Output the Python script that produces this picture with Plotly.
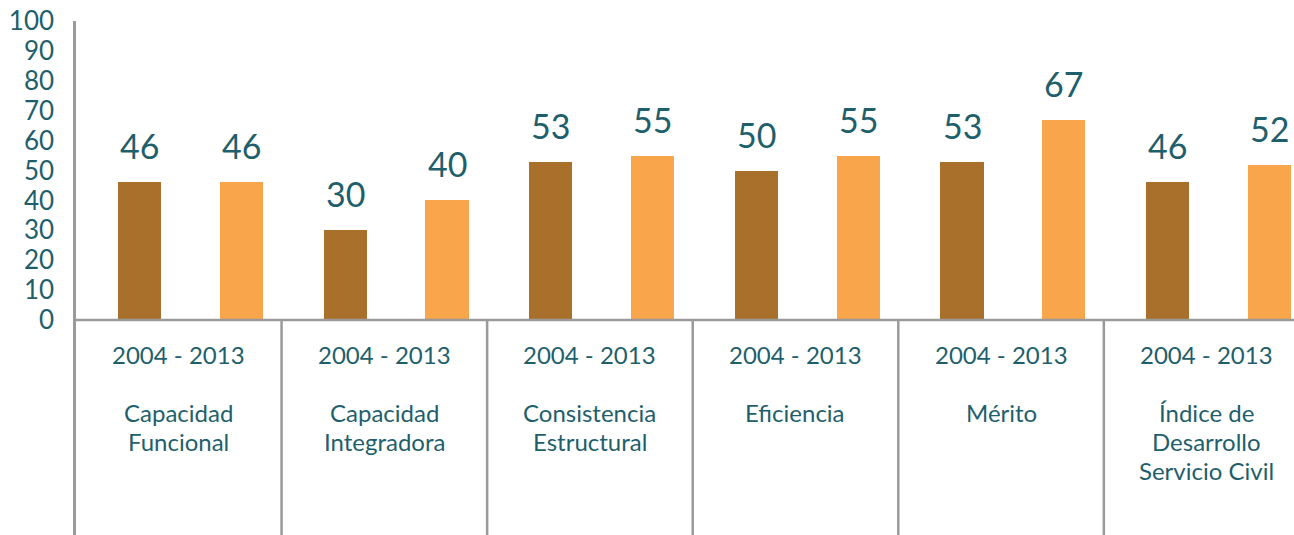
import plotly.graph_objects as go

categories = ["Capacidad<br>Funcional", "Capacidad<br>Integradora", "Consistencia<br>Estructural",
              "Eficiencia", "Mérito", "Índice de<br>Desarrollo<br>Servicio Civil"]
period_label = "2004 - 2013"
series_2004 = [46, 30, 53, 50, 53, 46]
series_2013 = [46, 40, 55, 55, 67, 52]
y_ticks = [0, 10, 20, 30, 40, 50, 60, 70, 80, 90, 100]

TEAL = "#1F5F6B"
DARK = "#A8702B"
ORANGE = "#F9A54B"
GRID = "#9A9A9A"
FONT = "Lato"

n = len(categories)
off_dark, off_orange, bw = 0.31, 0.805, 0.21
x_dark = [i + off_dark for i in range(n)]
x_orange = [i + off_orange for i in range(n)]
y_bottom = -71.9
px_per_unit = 2.99

fig = go.Figure()
fig.add_trace(go.Bar(x=x_dark, y=series_2004, width=bw, marker=dict(color=DARK, line_width=0), showlegend=False))
fig.add_trace(go.Bar(x=x_orange, y=series_2013, width=bw, marker=dict(color=ORANGE, line_width=0), showlegend=False))

annotations = []
for xs, vals in ((x_dark, series_2004), (x_orange, series_2013)):
    for x, v in zip(xs, vals):
        annotations.append(dict(x=x, y=v, text=str(v), showarrow=False, yanchor="bottom", yshift=14,
                                font=dict(family=FONT, size=34, color=TEAL)))
for i, c in enumerate(categories):
    annotations.append(dict(x=i + 0.5, y=-11.4, text=period_label, showarrow=False, yanchor="middle",
                            font=dict(family=FONT, size=24, color=TEAL)))
    for k, line in enumerate(c.split("<br>")):
        annotations.append(dict(x=i + 0.5, y=-31.0 - k * 29 / px_per_unit, text=line, showarrow=False,
                                yanchor="middle", font=dict(family=FONT, size=24, color=TEAL)))

shapes = [dict(type="line", x0=i, x1=i, y0=y_bottom, y1=0, line=dict(color=GRID, width=2.5), layer="above")
          for i in range(1, n)]
shapes.append(dict(type="line", xref="paper", x0=0, x1=1, y0=0, y1=0, line=dict(color=GRID, width=2.5), layer="above"))

fig.update_layout(
    width=1294, height=535,
    margin=dict(l=76, r=0, t=21, b=0, autoexpand=False),
    plot_bgcolor="white", paper_bgcolor="white",
    bargap=0,
    xaxis=dict(range=[0, 5.925], showticklabels=False, showgrid=False, zeroline=False, showline=False,
               automargin=False),
    yaxis=dict(range=[y_bottom, 100], tickvals=y_ticks, showgrid=False, zeroline=False,
               showline=True, linecolor=GRID, linewidth=2.5, automargin=False,
               tickfont=dict(family=FONT, size=26, color=TEAL), ticklabelstandoff=14),
    annotations=annotations, shapes=shapes,
)
fig.write_html("out.html", config={"displayModeBar": False},
               post_script="document.body.style.margin='0';document.body.style.overflow='hidden';")
